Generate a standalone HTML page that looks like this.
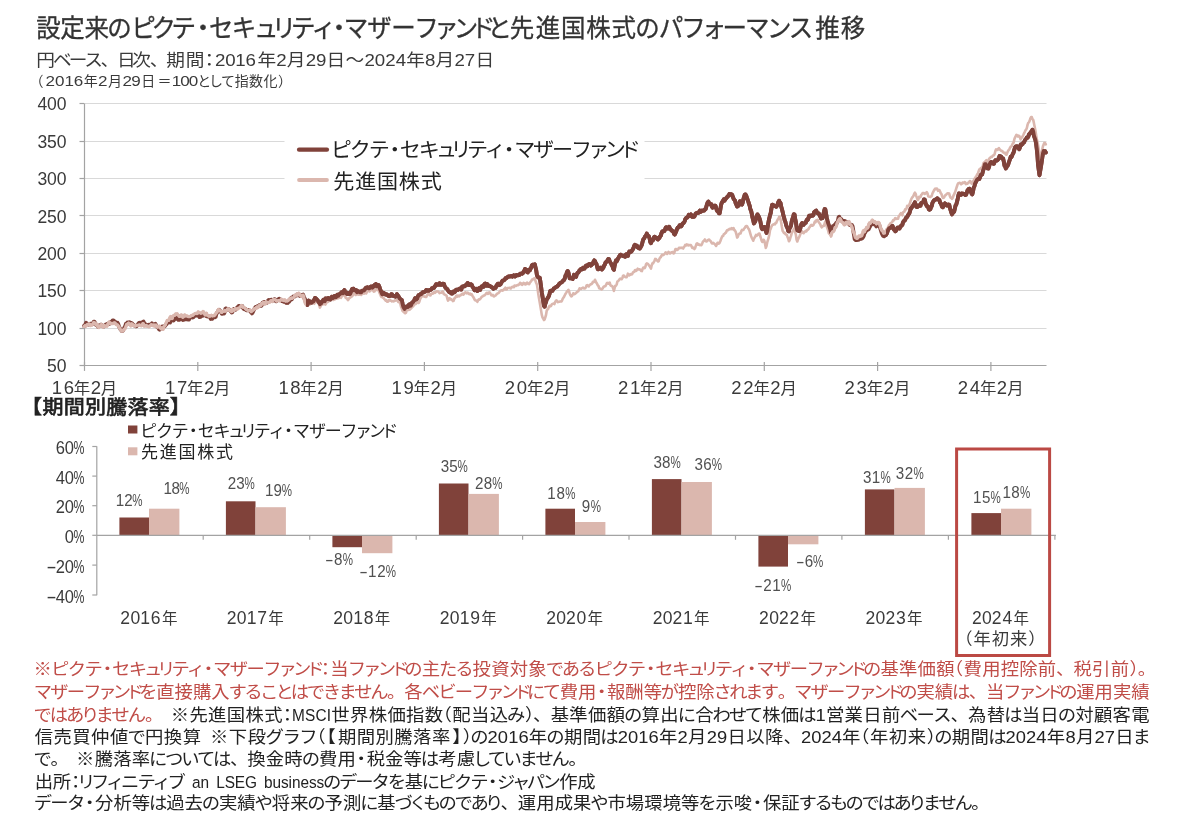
<!DOCTYPE html>
<html lang="ja"><head><meta charset="utf-8"><title>設定来のピクテ・セキュリティ・マザーファンドと先進国株式のパフォーマンス推移</title>
<style>
html,body{margin:0;padding:0;background:#fff;}
body{width:1200px;height:817px;overflow:hidden;}
svg{display:block;font-family:"Liberation Sans", "Noto Sans CJK JP", sans-serif;fill:#3a3a3a;}
svg text{white-space:pre;}
</style></head><body>
<svg width="1200" height="817" viewBox="0 0 1200 817">
<rect width="1200" height="817" fill="#fff"/>
<text x="36.9 61.6 86.3 109.4 133.9 154.5 175.1 194.6 213.3 236.5 259.2 277.3 297.0 317.8 333.4 350.8 374.8 399.2 422.7 443.2 462.9 480.7 497.5 520.2 546.7 572.5 598.3 624.1 648.2 672.2 695.2 716.2 737.2 760.3 782.6 804.8 831.9 858.0" y="37.3" font-size="25" fill="#333" transform="scale(0.980,1)" stroke="#333" stroke-width="0.3">設定来のピクテ・セキュリティ・マザーファンドと先進国株式のパフォーマンス推移</text>
<text x="33.0 48.1 62.4 76.7 91.4 106.3 120.3 136.1 151.1 168.8 181.8 195.5 204.7 213.9 223.2 234.0 251.1 260.7 277.9 287.3 296.9 314.2 331.4 340.8 350.2 359.7 369.3 386.4 396.0 413.2 422.6 432.2" y="66" font-size="17" transform="scale(1.100,1)">円ベース、日次、期間：2016年2月29日～2024年8月27日</text>
<text x="29.4" y="86" font-size="14">（</text><text x="37.4 45.1 52.8 60.5" y="86" font-size="14.0" transform="scale(1.220,1)">2016</text><text x="83.8" y="86" font-size="14">年</text><text x="80.3" y="86" font-size="14.0" transform="scale(1.220,1)">2</text><text x="108.0" y="86" font-size="14">月</text><text x="100.5 107.6" y="86" font-size="14.0" transform="scale(1.220,1)">29</text><text x="141.3 157.5" y="86" font-size="14">日＝</text><text x="140.8 147.8 154.8" y="86" font-size="14.0" transform="scale(1.220,1)">100</text><text x="197.2 208.9 220.9 234.7 249.1 263.4 278.0" y="86" font-size="14">として指数化）</text>
<line x1="84.0" y1="328.5" x2="1046.5" y2="328.5" stroke="#d9d9d9" stroke-width="1"/>
<line x1="84.0" y1="290.5" x2="1046.5" y2="290.5" stroke="#d9d9d9" stroke-width="1"/>
<line x1="84.0" y1="253.5" x2="1046.5" y2="253.5" stroke="#d9d9d9" stroke-width="1"/>
<line x1="84.0" y1="215.5" x2="1046.5" y2="215.5" stroke="#d9d9d9" stroke-width="1"/>
<line x1="84.0" y1="178.5" x2="1046.5" y2="178.5" stroke="#d9d9d9" stroke-width="1"/>
<line x1="84.0" y1="141.5" x2="1046.5" y2="141.5" stroke="#d9d9d9" stroke-width="1"/>
<line x1="84.0" y1="103.5" x2="1046.5" y2="103.5" stroke="#d9d9d9" stroke-width="1"/>
<rect x="284.5" y="132" width="360" height="62" fill="#fff"/>
<line x1="84.5" y1="103.6" x2="84.5" y2="365.9" stroke="#a3a3a3" stroke-width="1.2"/>
<line x1="84.0" y1="365.5" x2="1046.5" y2="365.5" stroke="#a3a3a3" stroke-width="1.2"/>
<line x1="79.5" y1="365.5" x2="84.0" y2="365.5" stroke="#a3a3a3" stroke-width="1.2"/>
<text x="49.6 59.7" y="372.2" font-size="18.5" transform="scale(0.950,1)">50</text>
<line x1="79.5" y1="328.5" x2="84.0" y2="328.5" stroke="#a3a3a3" stroke-width="1.2"/>
<text x="39.5 49.6 59.7" y="334.8" font-size="18.5" transform="scale(0.950,1)">100</text>
<line x1="79.5" y1="290.5" x2="84.0" y2="290.5" stroke="#a3a3a3" stroke-width="1.2"/>
<text x="39.5 49.6 59.7" y="297.4" font-size="18.5" transform="scale(0.950,1)">150</text>
<line x1="79.5" y1="253.5" x2="84.0" y2="253.5" stroke="#a3a3a3" stroke-width="1.2"/>
<text x="39.5 49.6 59.7" y="260.0" font-size="18.5" transform="scale(0.950,1)">200</text>
<line x1="79.5" y1="215.5" x2="84.0" y2="215.5" stroke="#a3a3a3" stroke-width="1.2"/>
<text x="39.5 49.6 59.7" y="222.6" font-size="18.5" transform="scale(0.950,1)">250</text>
<line x1="79.5" y1="178.5" x2="84.0" y2="178.5" stroke="#a3a3a3" stroke-width="1.2"/>
<text x="39.5 49.6 59.7" y="185.2" font-size="18.5" transform="scale(0.950,1)">300</text>
<line x1="79.5" y1="141.5" x2="84.0" y2="141.5" stroke="#a3a3a3" stroke-width="1.2"/>
<text x="39.5 49.6 59.7" y="147.8" font-size="18.5" transform="scale(0.950,1)">350</text>
<line x1="79.5" y1="103.5" x2="84.0" y2="103.5" stroke="#a3a3a3" stroke-width="1.2"/>
<text x="39.5 49.6 59.7" y="110.4" font-size="18.5" transform="scale(0.950,1)">400</text>
<line x1="84.5" y1="361.9" x2="84.5" y2="370.9" stroke="#a3a3a3" stroke-width="1.2"/>
<text x="52.0 64.0" y="394" font-size="18.6" transform="scale(0.996,1)">16</text><text x="69.5" y="394" font-size="15.5" transform="scale(1.060,1)">年</text><text x="91.2" y="394" font-size="18.6" transform="scale(0.996,1)">2</text><text x="95.1" y="394" font-size="15.5" transform="scale(1.060,1)">月</text>
<line x1="197.8" y1="361.9" x2="197.8" y2="370.9" stroke="#a3a3a3" stroke-width="1.2"/>
<text x="165.7 177.7" y="394" font-size="18.6" transform="scale(0.996,1)">17</text><text x="176.4" y="394" font-size="15.5" transform="scale(1.060,1)">年</text><text x="204.9" y="394" font-size="18.6" transform="scale(0.996,1)">2</text><text x="202.0" y="394" font-size="15.5" transform="scale(1.060,1)">月</text>
<line x1="311.1" y1="361.9" x2="311.1" y2="370.9" stroke="#a3a3a3" stroke-width="1.2"/>
<text x="279.5 291.4" y="394" font-size="18.6" transform="scale(0.996,1)">18</text><text x="283.3" y="394" font-size="15.5" transform="scale(1.060,1)">年</text><text x="318.6" y="394" font-size="18.6" transform="scale(0.996,1)">2</text><text x="308.9" y="394" font-size="15.5" transform="scale(1.060,1)">月</text>
<line x1="424.4" y1="361.9" x2="424.4" y2="370.9" stroke="#a3a3a3" stroke-width="1.2"/>
<text x="393.2 405.1" y="394" font-size="18.6" transform="scale(0.996,1)">19</text><text x="390.2" y="394" font-size="15.5" transform="scale(1.060,1)">年</text><text x="432.3" y="394" font-size="18.6" transform="scale(0.996,1)">2</text><text x="415.7" y="394" font-size="15.5" transform="scale(1.060,1)">月</text>
<line x1="537.7" y1="361.9" x2="537.7" y2="370.9" stroke="#a3a3a3" stroke-width="1.2"/>
<text x="506.9 518.8" y="394" font-size="18.6" transform="scale(0.996,1)">20</text><text x="497.1" y="394" font-size="15.5" transform="scale(1.060,1)">年</text><text x="546.0" y="394" font-size="18.6" transform="scale(0.996,1)">2</text><text x="522.6" y="394" font-size="15.5" transform="scale(1.060,1)">月</text>
<line x1="651.0" y1="361.9" x2="651.0" y2="370.9" stroke="#a3a3a3" stroke-width="1.2"/>
<text x="620.6 632.5" y="394" font-size="18.6" transform="scale(0.996,1)">21</text><text x="603.9" y="394" font-size="15.5" transform="scale(1.060,1)">年</text><text x="659.7" y="394" font-size="18.6" transform="scale(0.996,1)">2</text><text x="629.5" y="394" font-size="15.5" transform="scale(1.060,1)">月</text>
<line x1="764.3" y1="361.9" x2="764.3" y2="370.9" stroke="#a3a3a3" stroke-width="1.2"/>
<text x="734.3 746.2" y="394" font-size="18.6" transform="scale(0.996,1)">22</text><text x="710.8" y="394" font-size="15.5" transform="scale(1.060,1)">年</text><text x="773.4" y="394" font-size="18.6" transform="scale(0.996,1)">2</text><text x="736.4" y="394" font-size="15.5" transform="scale(1.060,1)">月</text>
<line x1="877.6" y1="361.9" x2="877.6" y2="370.9" stroke="#a3a3a3" stroke-width="1.2"/>
<text x="848.0 859.9" y="394" font-size="18.6" transform="scale(0.996,1)">23</text><text x="817.7" y="394" font-size="15.5" transform="scale(1.060,1)">年</text><text x="887.1" y="394" font-size="18.6" transform="scale(0.996,1)">2</text><text x="843.3" y="394" font-size="15.5" transform="scale(1.060,1)">月</text>
<line x1="990.9" y1="361.9" x2="990.9" y2="370.9" stroke="#a3a3a3" stroke-width="1.2"/>
<text x="961.7 973.7" y="394" font-size="18.6" transform="scale(0.996,1)">24</text><text x="924.6" y="394" font-size="15.5" transform="scale(1.060,1)">年</text><text x="1000.8" y="394" font-size="18.6" transform="scale(0.996,1)">2</text><text x="950.2" y="394" font-size="15.5" transform="scale(1.060,1)">月</text>
<defs><clipPath id="mid"><rect x="306" y="90" width="524" height="280"/></clipPath><clipPath id="end"><rect x="886" y="90" width="170" height="280"/></clipPath><clipPath id="lt"><rect x="80" y="90" width="226" height="280"/><rect x="830" y="90" width="56" height="280"/></clipPath><path id="sd" d="M84.0,326.0 84.7,325.9 85.4,324.2 86.1,322.8 86.8,323.9 87.5,324.0 88.2,324.1 88.9,324.6 89.6,324.7 90.3,323.6 91.0,323.6 91.7,323.8 92.4,324.2 93.1,323.4 93.8,321.6 94.5,321.7 95.2,323.5 95.9,324.9 96.6,324.7 97.3,325.0 98.0,326.9 98.7,325.9 99.4,325.9 100.1,325.8 100.8,324.7 101.5,324.6 102.2,325.8 102.9,326.0 103.6,326.7 104.3,326.0 105.0,325.6 105.7,324.6 106.4,324.3 107.1,323.9 107.8,323.8 108.5,323.8 109.2,323.8 109.9,323.6 110.6,322.1 111.3,322.6 112.0,321.5 112.7,320.4 113.4,320.5 114.1,320.9 114.8,322.1 115.5,321.9 116.2,322.9 116.9,323.3 117.6,322.9 118.3,324.2 119.0,326.6 119.7,327.9 120.4,329.2 121.1,330.1 121.8,331.0 122.5,330.8 123.2,330.3 123.9,328.5 124.6,327.1 125.3,325.8 126.0,323.7 126.7,323.7 127.4,322.5 128.1,322.8 128.8,323.5 129.5,322.2 130.2,322.6 130.9,324.2 131.6,323.1 132.3,323.6 133.0,324.6 133.7,325.2 134.4,325.5 135.1,325.9 135.8,326.3 136.5,326.3 137.2,325.5 137.9,324.2 138.6,323.4 139.3,322.7 140.0,323.5 140.7,322.8 141.4,323.9 142.1,324.1 142.8,321.8 143.5,321.6 144.2,323.0 144.9,324.3 145.6,324.2 146.3,324.8 147.0,325.2 147.7,325.4 148.4,325.9 149.1,324.7 149.8,324.6 150.5,324.6 151.2,324.3 151.9,323.4 152.6,324.4 153.3,324.3 154.0,324.6 154.7,324.4 155.4,323.8 156.1,325.1 156.8,326.7 157.5,326.8 158.2,327.4 158.9,329.1 159.6,329.6 160.3,328.6 161.0,328.6 161.7,326.6 162.4,326.5 163.1,327.6 163.8,326.9 164.5,326.3 165.2,325.7 165.9,324.7 166.6,324.1 167.3,322.6 168.0,320.9 168.7,321.5 169.4,322.2 170.1,322.5 170.8,320.6 171.5,320.0 172.2,319.9 172.9,319.9 173.6,320.5 174.3,319.4 175.0,317.8 175.7,318.5 176.4,318.7 177.1,317.6 177.8,318.2 178.5,319.9 179.2,319.8 179.9,319.3 180.6,319.0 181.3,318.8 182.0,318.6 182.7,320.0 183.4,319.9 184.1,319.3 184.8,318.2 185.5,318.4 186.2,319.4 186.9,319.3 187.6,318.9 188.3,319.6 189.0,319.5 189.7,318.2 190.4,317.5 191.1,316.7 191.8,316.5 192.5,317.5 193.2,317.4 193.9,316.7 194.6,315.1 195.3,314.8 196.0,315.5 196.7,315.5 197.4,315.5 198.1,315.0 198.8,316.1 199.5,317.1 200.2,316.9 200.9,316.6 201.6,315.7 202.3,315.8 203.0,315.3 203.7,315.5 204.4,314.9 205.1,314.7 205.8,315.1 206.5,316.4 207.2,316.4 207.9,316.5 208.6,316.2 209.3,316.9 210.0,317.0 210.7,318.9 211.4,318.7 212.1,318.9 212.8,317.8 213.5,316.5 214.2,316.3 214.9,317.3 215.6,316.9 216.3,314.2 217.0,312.8 217.7,312.0 218.4,310.4 219.1,309.8 219.8,310.4 220.5,311.4 221.2,312.4 221.9,313.8 222.6,313.6 223.3,313.6 224.0,313.6 224.7,312.1 225.4,308.7 226.1,308.4 226.8,309.8 227.5,309.1 228.2,309.3 228.9,309.3 229.6,309.9 230.3,310.6 231.0,311.4 231.7,312.4 232.4,312.1 233.1,310.4 233.8,309.1 234.5,309.6 235.2,309.7 235.9,309.6 236.6,308.5 237.3,307.3 238.0,307.6 238.7,306.0 239.4,306.0 240.1,306.7 240.8,306.8 241.5,307.1 242.2,306.0 242.9,307.6 243.6,308.9 244.3,309.1 245.0,309.4 245.7,309.1 246.4,310.1 247.1,310.4 247.8,309.9 248.5,309.9 249.2,310.4 249.9,310.8 250.6,311.9 251.3,312.4 252.0,313.4 252.7,312.4 253.4,310.9 254.1,309.5 254.8,308.0 255.5,307.2 256.2,306.6 256.9,306.7 257.6,306.2 258.3,306.1 259.0,305.7 259.7,304.9 260.4,304.9 261.1,305.9 261.8,305.1 262.5,302.9 263.2,302.6 263.9,301.9 264.6,302.0 265.3,302.8 266.0,302.4 266.7,302.8 267.4,302.2 268.1,300.4 268.8,300.0 269.5,300.4 270.2,300.5 270.9,299.8 271.6,299.6 272.3,300.2 273.0,300.5 273.7,300.1 274.4,299.1 275.1,299.3 275.8,301.2 276.5,301.2 277.2,300.1 277.9,299.7 278.6,299.2 279.3,298.8 280.0,299.5 280.7,299.7 281.4,300.3 282.1,301.1 282.8,301.0 283.5,301.7 284.2,301.7 284.9,301.5 285.6,302.1 286.3,302.9 287.0,302.5 287.7,302.9 288.4,301.7 289.1,301.6 289.8,300.8 290.5,298.8 291.2,297.9 291.9,299.2 292.6,297.6 293.3,296.5 294.0,296.8 294.7,296.3 295.4,296.0 296.1,295.0 296.8,294.5 297.5,295.3 298.2,294.5 298.9,294.8 299.6,295.6 300.3,296.1 301.0,295.4 301.7,295.2 302.4,295.1 303.1,294.6 303.8,296.7 304.5,298.4 305.2,300.2 305.9,302.2 306.6,303.5 307.3,305.0 308.0,303.8 308.7,300.6 309.4,301.2 310.1,301.6 310.8,302.7 311.5,302.8 312.2,302.2 312.9,301.2 313.6,301.2 314.3,299.6 315.0,297.9 315.7,298.4 316.4,299.1 317.1,299.7 317.8,300.5 318.5,302.2 319.2,302.3 319.9,304.2 320.6,303.7 321.3,303.2 322.0,301.6 322.7,301.0 323.4,299.9 324.1,300.6 324.8,301.1 325.5,298.5 326.2,298.5 326.9,299.2 327.6,298.7 328.3,298.0 329.0,299.2 329.7,299.1 330.4,299.5 331.1,298.2 331.8,296.9 332.5,297.3 333.2,297.9 333.9,296.3 334.6,296.0 335.3,296.8 336.0,297.2 336.7,296.1 337.4,294.7 338.1,295.9 338.8,294.7 339.5,294.2 340.2,293.8 340.9,293.1 341.6,292.2 342.3,292.9 343.0,293.3 343.7,291.0 344.4,290.0 345.1,292.0 345.8,292.9 346.5,293.6 347.2,294.0 347.9,292.9 348.6,293.3 349.3,294.0 350.0,294.0 350.7,292.7 351.4,290.7 352.1,289.0 352.8,288.9 353.5,288.7 354.2,290.3 354.9,290.0 355.6,290.0 356.3,290.2 357.0,292.2 357.7,291.5 358.4,291.3 359.1,291.9 359.8,292.1 360.5,292.4 361.2,292.3 361.9,290.9 362.6,290.7 363.3,290.5 364.0,290.5 364.7,289.7 365.4,288.4 366.1,287.7 366.8,287.6 367.5,287.3 368.2,288.1 368.9,288.3 369.6,288.1 370.3,287.2 371.0,286.5 371.7,286.6 372.4,287.6 373.1,287.0 373.8,285.8 374.5,285.0 375.2,284.9 375.9,284.0 376.6,286.3 377.3,286.1 378.0,285.0 378.7,285.2 379.4,286.8 380.1,289.2 380.8,290.7 381.5,292.5 382.2,294.3 382.9,294.1 383.6,292.9 384.3,293.4 385.0,294.3 385.7,294.6 386.4,294.3 387.1,294.7 387.8,295.4 388.5,295.9 389.2,296.1 389.9,295.4 390.6,295.7 391.3,294.2 392.0,294.4 392.7,295.7 393.4,296.0 394.1,296.0 394.8,296.5 395.5,296.7 396.2,296.1 396.9,294.2 397.6,295.0 398.3,296.2 399.0,297.2 399.7,298.5 400.4,299.0 401.1,299.8 401.8,300.1 402.5,303.5 403.2,306.4 403.9,307.8 404.6,308.9 405.3,307.4 406.0,306.8 406.7,306.4 407.4,307.1 408.1,306.8 408.8,305.0 409.5,304.3 410.2,304.5 410.9,305.6 411.6,303.8 412.3,302.4 413.0,302.2 413.7,301.2 414.4,299.9 415.1,298.3 415.8,298.4 416.5,299.4 417.2,298.5 417.9,296.4 418.6,295.1 419.3,295.0 420.0,294.6 420.7,293.9 421.4,294.1 422.1,292.9 422.8,292.2 423.5,292.4 424.2,291.9 424.9,291.9 425.6,290.9 426.3,290.0 427.0,290.2 427.7,290.6 428.4,290.9 429.1,290.3 429.8,289.9 430.5,289.9 431.2,289.7 431.9,288.4 432.6,288.1 433.3,288.0 434.0,287.9 434.7,286.4 435.4,285.9 436.1,284.3 436.8,284.3 437.5,284.7 438.2,284.5 438.9,284.8 439.6,283.3 440.3,284.1 441.0,284.7 441.7,284.1 442.4,283.8 443.1,284.5 443.8,283.7 444.5,285.8 445.2,287.1 445.9,288.2 446.6,288.7 447.3,289.0 448.0,290.5 448.7,291.5 449.4,292.3 450.1,292.0 450.8,292.8 451.5,293.5 452.2,293.6 452.9,291.6 453.6,291.5 454.3,292.3 455.0,291.7 455.7,290.2 456.4,289.6 457.1,289.6 457.8,289.9 458.5,289.3 459.2,288.8 459.9,288.5 460.6,289.3 461.3,289.6 462.0,286.9 462.7,286.4 463.4,286.5 464.1,285.9 464.8,286.2 465.5,285.2 466.2,285.3 466.9,284.1 467.6,283.0 468.3,284.2 469.0,285.0 469.7,284.3 470.4,284.5 471.1,284.3 471.8,285.0 472.5,286.6 473.2,287.7 473.9,289.0 474.6,290.2 475.3,289.1 476.0,288.7 476.7,289.7 477.4,291.0 478.1,289.3 478.8,288.4 479.5,289.3 480.2,289.8 480.9,287.7 481.6,286.5 482.3,286.1 483.0,286.7 483.7,286.8 484.4,284.0 485.1,283.5 485.8,285.0 486.5,285.6 487.2,284.1 487.9,284.8 488.6,286.0 489.3,285.8 490.0,286.1 490.7,286.5 491.4,287.1 492.1,287.4 492.8,288.1 493.5,288.7 494.2,287.8 494.9,287.6 495.6,287.7 496.3,285.9 497.0,284.9 497.7,283.9 498.4,283.7 499.1,285.1 499.8,284.7 500.5,284.3 501.2,282.9 501.9,281.7 502.6,280.7 503.3,280.5 504.0,280.2 504.7,279.6 505.4,278.3 506.1,278.3 506.8,277.9 507.5,277.0 508.2,276.5 508.9,276.5 509.6,276.6 510.3,276.1 511.0,276.1 511.7,276.0 512.4,276.7 513.1,276.0 513.8,275.2 514.5,275.8 515.2,276.4 515.9,275.7 516.6,274.9 517.3,275.3 518.0,275.2 518.7,275.1 519.4,274.9 520.1,273.7 520.8,273.8 521.5,273.5 522.2,273.7 522.9,273.0 523.6,271.7 524.3,270.6 525.0,268.9 525.7,269.5 526.4,269.9 527.1,272.2 527.8,272.4 528.5,270.2 529.2,269.6 529.9,270.3 530.6,268.8 531.3,267.3 532.0,265.2 532.7,264.8 533.4,264.7 534.1,264.8 534.8,264.3 535.5,267.4 536.2,270.3 536.9,275.0 537.6,276.7 538.3,277.6 539.0,277.5 539.7,277.6 540.4,281.7 541.1,287.1 541.8,292.6 542.5,296.7 543.2,300.9 543.9,305.6 544.6,306.7 545.3,303.9 546.0,302.1 546.7,299.3 547.4,298.6 548.1,297.4 548.8,296.3 549.5,294.0 550.2,291.1 550.9,290.8 551.6,290.7 552.3,290.9 553.0,289.9 553.7,288.6 554.4,288.3 555.1,287.6 555.8,287.3 556.5,286.7 557.2,286.6 557.9,285.5 558.6,285.0 559.3,283.8 560.0,283.2 560.7,282.6 561.4,282.6 562.1,282.0 562.8,281.0 563.5,280.3 564.2,279.8 564.9,278.1 565.6,275.3 566.3,274.6 567.0,271.9 567.7,271.0 568.4,272.3 569.1,275.8 569.8,278.4 570.5,278.3 571.2,278.2 571.9,278.5 572.6,279.0 573.3,277.2 574.0,274.8 574.7,275.0 575.4,276.5 576.1,276.9 576.8,274.1 577.5,272.8 578.2,272.6 578.9,271.6 579.6,270.2 580.3,270.2 581.0,268.9 581.7,268.8 582.4,269.2 583.1,267.7 583.8,267.8 584.5,268.5 585.2,267.2 585.9,265.7 586.6,265.9 587.3,266.2 588.0,264.5 588.7,264.3 589.4,264.0 590.1,264.2 590.8,265.6 591.5,265.0 592.2,264.2 592.9,263.3 593.6,261.6 594.3,260.4 595.0,261.1 595.7,263.1 596.4,263.8 597.1,266.6 597.8,269.2 598.5,269.2 599.2,268.7 599.9,267.8 600.6,267.8 601.3,267.8 602.0,269.4 602.7,268.4 603.4,267.6 604.1,265.6 604.8,264.6 605.5,262.5 606.2,261.9 606.9,261.6 607.6,260.2 608.3,259.0 609.0,259.2 609.7,261.4 610.4,262.5 611.1,263.5 611.8,265.1 612.5,266.2 613.2,268.7 613.9,269.8 614.6,265.7 615.3,262.9 616.0,260.6 616.7,261.3 617.4,260.0 618.1,258.3 618.8,257.3 619.5,256.1 620.2,254.8 620.9,254.6 621.6,255.5 622.3,255.4 623.0,256.0 623.7,255.7 624.4,256.4 625.1,256.7 625.8,254.7 626.5,254.2 627.2,255.8 627.9,255.9 628.6,253.2 629.3,251.6 630.0,251.9 630.7,251.8 631.4,251.6 632.1,250.3 632.8,249.3 633.5,248.0 634.2,245.7 634.9,244.9 635.6,245.6 636.3,245.5 637.0,245.6 637.7,247.5 638.4,248.0 639.1,248.3 639.8,248.6 640.5,247.4 641.2,246.1 641.9,244.6 642.6,241.8 643.3,239.3 644.0,238.6 644.7,237.3 645.4,236.1 646.1,235.4 646.8,233.6 647.5,235.2 648.2,235.9 648.9,236.4 649.6,238.5 650.3,242.1 651.0,243.2 651.7,240.9 652.4,240.9 653.1,240.0 653.8,237.7 654.5,236.7 655.2,237.2 655.9,237.5 656.6,237.8 657.3,239.1 658.0,239.4 658.7,238.4 659.4,238.0 660.1,236.3 660.8,235.6 661.5,233.1 662.2,231.5 662.9,231.1 663.6,231.2 664.3,231.1 665.0,229.7 665.7,227.7 666.4,227.2 667.1,227.8 667.8,228.6 668.5,228.6 669.2,226.8 669.9,228.2 670.6,229.3 671.3,230.2 672.0,230.9 672.7,230.9 673.4,231.6 674.1,234.0 674.8,234.6 675.5,232.9 676.2,231.4 676.9,229.3 677.6,227.7 678.3,227.6 679.0,226.4 679.7,225.2 680.4,225.5 681.1,226.5 681.8,225.4 682.5,223.9 683.2,223.1 683.9,222.7 684.6,221.4 685.3,219.1 686.0,218.2 686.7,217.7 687.4,217.4 688.1,216.4 688.8,214.9 689.5,215.8 690.2,215.1 690.9,214.4 691.6,216.1 692.3,216.9 693.0,216.9 693.7,216.9 694.4,216.5 695.1,214.9 695.8,213.3 696.5,213.1 697.2,213.1 697.9,212.4 698.6,212.7 699.3,211.8 700.0,210.6 700.7,211.9 701.4,211.2 702.1,210.5 702.8,210.8 703.5,210.4 704.2,210.6 704.9,209.4 705.6,209.2 706.3,206.7 707.0,204.2 707.7,202.3 708.4,201.6 709.1,203.1 709.8,204.1 710.5,204.5 711.2,204.3 711.9,206.7 712.6,207.7 713.3,206.1 714.0,205.6 714.7,205.6 715.4,205.7 716.1,207.7 716.8,210.3 717.5,211.2 718.2,211.5 718.9,213.2 719.6,213.3 720.3,209.7 721.0,205.2 721.7,202.9 722.4,201.9 723.1,200.6 723.8,199.4 724.5,200.7 725.2,199.7 725.9,198.2 726.6,197.9 727.3,196.9 728.0,196.1 728.7,195.6 729.4,193.9 730.1,194.6 730.8,194.4 731.5,194.3 732.2,194.8 732.9,197.1 733.6,198.8 734.3,199.7 735.0,200.5 735.7,203.2 736.4,204.8 737.1,206.5 737.8,206.4 738.5,205.5 739.2,204.2 739.9,201.2 740.6,203.1 741.3,204.2 742.0,204.6 742.7,202.6 743.4,199.1 744.1,196.8 744.8,194.6 745.5,194.4 746.2,195.7 746.9,197.7 747.6,199.7 748.3,201.6 749.0,203.9 749.7,205.9 750.4,209.3 751.1,210.7 751.8,213.8 752.5,217.6 753.2,220.2 753.9,223.4 754.6,222.3 755.3,221.3 756.0,218.7 756.7,216.1 757.4,214.4 758.1,215.3 758.8,216.6 759.5,218.4 760.2,220.7 760.9,224.2 761.6,228.0 762.3,229.1 763.0,227.4 763.7,227.1 764.4,227.0 765.1,228.7 765.8,230.8 766.5,233.0 767.2,230.5 767.9,225.3 768.6,221.5 769.3,218.2 770.0,215.4 770.7,213.1 771.4,208.6 772.1,204.9 772.8,204.7 773.5,205.3 774.2,206.1 774.9,206.0 775.6,206.4 776.3,206.8 777.0,205.7 777.7,203.9 778.4,201.9 779.1,200.7 779.8,202.2 780.5,202.9 781.2,206.4 781.9,209.0 782.6,211.7 783.3,215.1 784.0,217.3 784.7,220.3 785.4,221.9 786.1,224.9 786.8,227.0 787.5,227.9 788.2,230.8 788.9,231.3 789.6,227.6 790.3,227.4 791.0,225.6 791.7,221.5 792.4,219.0 793.1,217.2 793.8,214.3 794.5,214.4 795.2,218.9 795.9,222.1 796.6,227.2 797.3,230.3 798.0,229.3 798.7,231.0 799.4,231.1 800.1,229.3 800.8,226.1 801.5,223.9 802.2,223.0 802.9,223.8 803.6,224.8 804.3,223.5 805.0,223.1 805.7,222.8 806.4,220.7 807.1,219.5 807.8,219.9 808.5,217.8 809.2,215.7 809.9,215.6 810.6,216.2 811.3,215.5 812.0,215.5 812.7,215.7 813.4,214.9 814.1,212.4 814.8,211.6 815.5,211.1 816.2,210.6 816.9,212.2 817.6,213.3 818.3,213.2 819.0,213.6 819.7,215.5 820.4,216.8 821.1,218.5 821.8,218.2 822.5,218.1 823.2,215.6 823.9,211.9 824.6,209.1 825.3,209.4 826.0,213.4 826.7,217.4 827.4,220.4 828.1,223.0 828.8,224.7 829.5,226.9 830.2,229.3 830.9,232.2 831.6,229.7 832.3,227.5 833.0,226.0 833.7,226.0 834.4,225.2 835.1,224.7 835.8,223.7 836.5,222.6 837.2,222.6 837.9,220.6 838.6,217.2 839.3,216.8 840.0,218.7 840.7,218.9 841.4,219.3 842.1,221.1 842.8,220.7 843.5,221.1 844.2,221.7 844.9,221.0 845.6,221.6 846.3,222.4 847.0,222.7 847.7,222.4 848.4,223.2 849.1,223.7 849.8,225.0 850.5,224.8 851.2,224.7 851.9,225.0 852.6,226.4 853.3,230.9 854.0,234.9 854.7,239.2 855.4,239.9 856.1,239.3 856.8,240.0 857.5,239.1 858.2,239.1 858.9,239.7 859.6,239.0 860.3,237.6 861.0,237.6 861.7,238.6 862.4,238.2 863.1,237.2 863.8,235.8 864.5,233.3 865.2,232.5 865.9,231.0 866.6,230.3 867.3,229.9 868.0,229.7 868.7,229.2 869.4,227.7 870.1,226.3 870.8,225.0 871.5,224.6 872.2,222.8 872.9,221.6 873.6,223.3 874.3,224.3 875.0,224.1 875.7,225.2 876.4,226.4 877.1,225.5 877.8,225.2 878.5,224.7 879.2,224.9 879.9,227.1 880.6,229.3 881.3,231.6 882.0,233.8 882.7,235.3 883.4,236.0 884.1,236.3 884.8,235.6 885.5,235.3 886.2,234.6 886.9,233.3 887.6,231.1 888.3,229.7 889.0,228.4 889.7,228.0 890.4,227.7 891.1,227.6 891.8,226.2 892.5,225.9 893.2,227.9 893.9,229.5 894.6,229.4 895.3,231.3 896.0,230.7 896.7,229.2 897.4,227.7 898.1,227.5 898.8,228.4 899.5,228.5 900.2,227.2 900.9,226.0 901.6,225.6 902.3,224.9 903.0,222.4 903.7,221.1 904.4,220.7 905.1,220.1 905.8,218.1 906.5,217.5 907.2,216.8 907.9,215.5 908.6,214.3 909.3,213.5 910.0,211.2 910.7,208.4 911.4,208.2 912.1,206.8 912.8,206.0 913.5,204.9 914.2,203.8 914.9,202.2 915.6,204.5 916.3,206.6 917.0,207.1 917.7,206.8 918.4,205.5 919.1,205.5 919.8,205.9 920.5,205.7 921.2,203.1 921.9,202.8 922.6,202.5 923.3,201.8 924.0,199.4 924.7,199.4 925.4,202.5 926.1,204.7 926.8,206.0 927.5,206.1 928.2,207.3 928.9,209.4 929.6,209.7 930.3,209.2 931.0,207.4 931.7,206.1 932.4,203.0 933.1,201.6 933.8,200.7 934.5,200.0 935.2,199.7 935.9,199.4 936.6,199.1 937.3,198.3 938.0,199.0 938.7,199.8 939.4,200.1 940.1,202.6 940.8,203.3 941.5,205.2 942.2,206.9 942.9,207.3 943.6,206.1 944.3,204.6 945.0,203.4 945.7,204.2 946.4,204.8 947.1,205.5 947.8,204.7 948.5,204.5 949.2,204.8 949.9,207.7 950.6,210.2 951.3,212.3 952.0,214.4 952.7,213.1 953.4,212.4 954.1,211.7 954.8,208.9 955.5,205.7 956.2,204.7 956.9,202.2 957.6,199.5 958.3,195.9 959.0,193.4 959.7,194.2 960.4,194.7 961.1,194.8 961.8,193.5 962.5,193.6 963.2,193.7 963.9,194.2 964.6,194.0 965.3,195.0 966.0,194.7 966.7,193.0 967.4,190.7 968.1,189.7 968.8,188.9 969.5,188.8 970.2,190.9 970.9,191.6 971.6,193.6 972.3,194.4 973.0,191.5 973.7,187.6 974.4,186.3 975.1,183.6 975.8,182.1 976.5,180.8 977.2,179.5 977.9,179.0 978.6,178.6 979.3,178.9 980.0,177.4 980.7,175.0 981.4,175.0 982.1,174.5 982.8,171.7 983.5,169.3 984.2,167.2 984.9,164.3 985.6,164.2 986.3,166.2 987.0,167.8 987.7,168.4 988.4,168.5 989.1,166.5 989.8,164.0 990.5,162.6 991.2,162.0 991.9,162.7 992.6,163.0 993.3,163.7 994.0,163.7 994.7,161.4 995.4,160.2 996.1,160.5 996.8,160.5 997.5,160.1 998.2,159.2 998.9,157.8 999.6,156.0 1000.3,156.2 1001.0,156.5 1001.7,157.8 1002.4,158.7 1003.1,158.4 1003.8,161.6 1004.5,165.6 1005.2,166.5 1005.9,168.5 1006.6,167.1 1007.3,165.6 1008.0,165.3 1008.7,162.8 1009.4,160.9 1010.1,158.9 1010.8,156.7 1011.5,157.0 1012.2,155.2 1012.9,153.7 1013.6,152.5 1014.3,149.8 1015.0,147.6 1015.7,146.4 1016.4,146.4 1017.1,146.3 1017.8,146.8 1018.5,147.6 1019.2,149.2 1019.9,147.5 1020.6,144.6 1021.3,145.0 1022.0,144.3 1022.7,143.9 1023.4,142.5 1024.1,142.2 1024.8,140.4 1025.5,139.5 1026.2,138.5 1026.9,137.4 1027.6,137.6 1028.3,136.6 1029.0,134.3 1029.7,133.8 1030.4,132.7 1031.1,131.9 1031.8,131.0 1032.5,129.7 1033.2,131.7 1033.9,135.6 1034.6,137.6 1035.3,139.6 1036.0,142.7 1036.7,148.2 1037.4,155.0 1038.1,165.1 1038.8,170.2 1039.5,175.2 1040.2,170.9 1040.9,166.9 1041.6,162.5 1042.3,157.5 1043.0,153.3 1043.7,151.0 1044.4,151.2 1045.1,151.3 1045.8,152.5"/><path id="sl" d="M84.0,326.5 84.7,326.1 85.4,325.4 86.1,326.1 86.8,325.6 87.5,324.3 88.2,324.4 88.9,323.9 89.6,324.0 90.3,325.7 91.0,325.1 91.7,325.1 92.4,324.6 93.1,323.4 93.8,322.3 94.5,322.6 95.2,323.9 95.9,324.8 96.6,323.8 97.3,324.8 98.0,327.0 98.7,327.6 99.4,326.9 100.1,326.2 100.8,325.1 101.5,324.4 102.2,325.6 102.9,327.3 103.6,326.4 104.3,325.5 105.0,326.5 105.7,326.1 106.4,326.1 107.1,326.2 107.8,324.2 108.5,322.7 109.2,321.8 109.9,323.3 110.6,323.9 111.3,323.3 112.0,323.3 112.7,323.7 113.4,323.2 114.1,322.7 114.8,322.7 115.5,323.5 116.2,324.8 116.9,324.7 117.6,325.0 118.3,325.9 119.0,327.1 119.7,328.4 120.4,329.5 121.1,330.4 121.8,331.1 122.5,330.3 123.2,330.8 123.9,329.5 124.6,328.8 125.3,328.4 126.0,326.3 126.7,324.4 127.4,324.5 128.1,323.3 128.8,323.0 129.5,324.1 130.2,325.0 130.9,326.0 131.6,323.8 132.3,324.2 133.0,325.3 133.7,325.7 134.4,325.4 135.1,326.2 135.8,325.8 136.5,325.3 137.2,325.3 137.9,325.3 138.6,325.2 139.3,324.8 140.0,325.2 140.7,325.8 141.4,325.9 142.1,325.6 142.8,323.6 143.5,323.8 144.2,326.3 144.9,326.2 145.6,325.8 146.3,325.3 147.0,326.3 147.7,326.4 148.4,326.4 149.1,326.8 149.8,326.0 150.5,325.5 151.2,324.7 151.9,325.2 152.6,325.0 153.3,325.8 154.0,325.0 154.7,326.2 155.4,325.3 156.1,325.0 156.8,326.9 157.5,327.2 158.2,326.6 158.9,326.2 159.6,326.1 160.3,328.0 161.0,328.8 161.7,327.8 162.4,329.5 163.1,329.5 163.8,326.6 164.5,326.2 165.2,325.2 165.9,323.3 166.6,321.9 167.3,320.2 168.0,320.3 168.7,320.5 169.4,318.6 170.1,317.1 170.8,316.3 171.5,318.5 172.2,318.6 172.9,316.2 173.6,315.4 174.3,315.5 175.0,315.2 175.7,313.8 176.4,314.4 177.1,313.6 177.8,314.8 178.5,315.3 179.2,316.4 179.9,316.4 180.6,315.3 181.3,314.8 182.0,315.1 182.7,317.3 183.4,317.0 184.1,315.4 184.8,314.8 185.5,316.0 186.2,315.9 186.9,315.8 187.6,316.2 188.3,316.6 189.0,316.6 189.7,316.7 190.4,316.3 191.1,315.7 191.8,315.2 192.5,315.4 193.2,314.9 193.9,314.1 194.6,313.8 195.3,313.4 196.0,313.4 196.7,313.7 197.4,313.5 198.1,311.8 198.8,312.2 199.5,312.6 200.2,312.7 200.9,313.3 201.6,313.1 202.3,312.4 203.0,311.4 203.7,311.8 204.4,313.6 205.1,315.0 205.8,313.9 206.5,313.1 207.2,315.2 207.9,315.6 208.6,316.1 209.3,315.6 210.0,316.2 210.7,315.8 211.4,315.2 212.1,315.7 212.8,316.0 213.5,315.3 214.2,315.7 214.9,314.9 215.6,314.2 216.3,312.8 217.0,312.2 217.7,311.0 218.4,309.4 219.1,310.0 219.8,310.7 220.5,310.9 221.2,312.3 221.9,312.5 222.6,311.3 223.3,311.5 224.0,311.3 224.7,310.5 225.4,311.2 226.1,310.8 226.8,309.9 227.5,309.0 228.2,308.8 228.9,309.3 229.6,310.5 230.3,310.2 231.0,311.2 231.7,311.7 232.4,309.4 233.1,309.5 233.8,310.7 234.5,309.7 235.2,308.6 235.9,308.8 236.6,309.0 237.3,309.3 238.0,308.3 238.7,307.9 239.4,307.7 240.1,307.4 240.8,306.3 241.5,305.4 242.2,305.9 242.9,307.3 243.6,307.1 244.3,307.5 245.0,308.0 245.7,309.0 246.4,309.7 247.1,309.6 247.8,310.5 248.5,310.7 249.2,310.6 249.9,309.8 250.6,310.4 251.3,311.6 252.0,311.1 252.7,310.3 253.4,310.0 254.1,308.8 254.8,308.6 255.5,308.8 256.2,307.6 256.9,307.0 257.6,307.8 258.3,307.2 259.0,305.9 259.7,305.1 260.4,305.8 261.1,305.3 261.8,303.4 262.5,303.1 263.2,302.5 263.9,302.4 264.6,304.3 265.3,304.1 266.0,301.7 266.7,302.3 267.4,302.3 268.1,302.2 268.8,302.6 269.5,302.4 270.2,301.4 270.9,300.6 271.6,301.5 272.3,301.6 273.0,299.7 273.7,299.5 274.4,299.8 275.1,299.6 275.8,300.2 276.5,301.1 277.2,300.9 277.9,300.8 278.6,300.6 279.3,300.4 280.0,301.0 280.7,300.1 281.4,299.2 282.1,299.5 282.8,300.1 283.5,300.6 284.2,299.8 284.9,299.9 285.6,301.1 286.3,300.9 287.0,301.1 287.7,300.8 288.4,300.2 289.1,299.0 289.8,299.2 290.5,298.5 291.2,297.9 291.9,298.5 292.6,297.9 293.3,297.7 294.0,297.3 294.7,295.4 295.4,295.6 296.1,294.6 296.8,293.9 297.5,295.1 298.2,294.4 298.9,293.1 299.6,294.2 300.3,295.4 301.0,296.3 301.7,296.6 302.4,295.6 303.1,295.1 303.8,297.7 304.5,300.7 305.2,303.0 305.9,304.4 306.6,305.0 307.3,305.1 308.0,303.9 308.7,303.5 309.4,304.2 310.1,304.4 310.8,303.3 311.5,303.2 312.2,303.2 312.9,302.8 313.6,302.8 314.3,303.8 315.0,302.2 315.7,301.4 316.4,301.6 317.1,301.8 317.8,302.4 318.5,303.6 319.2,304.8 319.9,307.6 320.6,306.4 321.3,304.6 322.0,304.7 322.7,304.1 323.4,304.1 324.1,304.1 324.8,303.9 325.5,304.5 326.2,303.2 326.9,302.1 327.6,302.0 328.3,301.8 329.0,300.1 329.7,299.9 330.4,299.6 331.1,299.4 331.8,298.7 332.5,299.5 333.2,300.0 333.9,299.3 334.6,299.5 335.3,298.4 336.0,297.9 336.7,297.4 337.4,298.4 338.1,298.3 338.8,297.9 339.5,297.7 340.2,297.2 340.9,297.8 341.6,296.7 342.3,295.2 343.0,295.4 343.7,295.4 344.4,295.0 345.1,296.0 345.8,298.0 346.5,298.1 347.2,299.1 347.9,300.1 348.6,299.3 349.3,298.0 350.0,297.7 350.7,296.6 351.4,296.9 352.1,296.2 352.8,295.2 353.5,293.3 354.2,292.7 354.9,294.1 355.6,295.0 356.3,294.6 357.0,294.3 357.7,294.2 358.4,294.5 359.1,294.8 359.8,294.2 360.5,294.4 361.2,294.9 361.9,294.1 362.6,293.3 363.3,293.2 364.0,293.6 364.7,293.1 365.4,292.1 366.1,293.5 366.8,292.4 367.5,291.1 368.2,290.2 368.9,290.6 369.6,291.4 370.3,290.7 371.0,288.9 371.7,289.3 372.4,290.2 373.1,290.1 373.8,291.6 374.5,291.4 375.2,290.0 375.9,289.1 376.6,289.9 377.3,289.8 378.0,289.4 378.7,290.6 379.4,292.7 380.1,294.1 380.8,295.9 381.5,296.9 382.2,296.9 382.9,297.7 383.6,298.1 384.3,299.1 385.0,299.7 385.7,300.6 386.4,300.2 387.1,301.6 387.8,301.7 388.5,301.2 389.2,299.7 389.9,299.8 390.6,300.7 391.3,300.8 392.0,301.4 392.7,301.1 393.4,301.4 394.1,301.3 394.8,300.4 395.5,300.6 396.2,300.4 396.9,299.9 397.6,300.1 398.3,302.1 399.0,302.3 399.7,301.3 400.4,303.9 401.1,307.0 401.8,308.6 402.5,310.8 403.2,311.5 403.9,311.7 404.6,313.0 405.3,313.2 406.0,312.7 406.7,310.3 407.4,310.0 408.1,310.0 408.8,309.9 409.5,309.8 410.2,309.2 410.9,308.5 411.6,307.8 412.3,306.8 413.0,306.5 413.7,305.5 414.4,304.0 415.1,304.2 415.8,304.0 416.5,303.2 417.2,301.6 417.9,302.0 418.6,303.0 419.3,301.9 420.0,299.3 420.7,298.1 421.4,297.1 422.1,295.7 422.8,295.1 423.5,295.9 424.2,296.7 424.9,296.7 425.6,296.9 426.3,297.0 427.0,295.3 427.7,294.5 428.4,293.7 429.1,294.2 429.8,295.3 430.5,295.4 431.2,293.7 431.9,293.6 432.6,293.8 433.3,293.0 434.0,292.2 434.7,292.9 435.4,292.5 436.1,291.7 436.8,291.2 437.5,291.4 438.2,291.6 438.9,292.2 439.6,293.1 440.3,292.8 441.0,292.8 441.7,292.4 442.4,291.5 443.1,291.9 443.8,294.1 444.5,294.4 445.2,294.8 445.9,295.2 446.6,295.7 447.3,298.5 448.0,300.6 448.7,299.7 449.4,298.2 450.1,298.6 450.8,299.5 451.5,299.4 452.2,300.0 452.9,301.1 453.6,300.8 454.3,298.5 455.0,298.2 455.7,296.9 456.4,295.7 457.1,296.6 457.8,295.5 458.5,295.9 459.2,296.4 459.9,295.7 460.6,294.8 461.3,295.0 462.0,293.9 462.7,293.6 463.4,294.6 464.1,294.0 464.8,292.7 465.5,292.3 466.2,292.9 466.9,293.3 467.6,292.6 468.3,292.9 469.0,294.0 469.7,294.3 470.4,293.6 471.1,294.7 471.8,294.3 472.5,296.0 473.2,296.8 473.9,298.1 474.6,299.6 475.3,300.4 476.0,300.5 476.7,300.7 477.4,301.8 478.1,300.2 478.8,299.3 479.5,299.6 480.2,298.9 480.9,298.1 481.6,297.1 482.3,296.5 483.0,296.1 483.7,295.5 484.4,295.4 485.1,294.8 485.8,294.0 486.5,292.9 487.2,292.7 487.9,293.9 488.6,292.9 489.3,292.4 490.0,292.7 490.7,294.2 491.4,295.4 492.1,295.1 492.8,294.9 493.5,296.2 494.2,296.4 494.9,295.7 495.6,295.5 496.3,294.5 497.0,293.9 497.7,293.4 498.4,293.1 499.1,292.3 499.8,291.5 500.5,290.7 501.2,290.2 501.9,290.3 502.6,290.6 503.3,290.2 504.0,289.1 504.7,288.7 505.4,287.7 506.1,289.5 506.8,289.4 507.5,288.1 508.2,288.0 508.9,288.0 509.6,287.7 510.3,288.4 511.0,288.5 511.7,287.2 512.4,286.8 513.1,286.7 513.8,287.2 514.5,285.6 515.2,285.6 515.9,286.0 516.6,285.5 517.3,285.0 518.0,285.2 518.7,284.6 519.4,284.4 520.1,282.8 520.8,283.2 521.5,284.4 522.2,284.8 522.9,283.9 523.6,282.8 524.3,284.1 525.0,283.4 525.7,284.4 526.4,283.5 527.1,282.5 527.8,283.6 528.5,284.0 529.2,284.1 529.9,282.7 530.6,281.8 531.3,281.0 532.0,279.5 532.7,279.7 533.4,279.0 534.1,278.3 534.8,278.4 535.5,281.0 536.2,283.0 536.9,284.6 537.6,288.9 538.3,294.0 539.0,298.2 539.7,302.3 540.4,306.3 541.1,310.6 541.8,314.9 542.5,317.3 543.2,318.5 543.9,320.1 544.6,319.5 545.3,317.3 546.0,315.0 546.7,310.8 547.4,309.2 548.1,309.2 548.8,307.1 549.5,305.9 550.2,306.4 550.9,306.1 551.6,304.7 552.3,304.0 553.0,303.8 553.7,303.5 554.4,304.1 555.1,302.1 555.8,300.9 556.5,300.3 557.2,301.2 557.9,302.1 558.6,301.7 559.3,301.8 560.0,301.6 560.7,301.4 561.4,301.4 562.1,300.4 562.8,298.5 563.5,297.7 564.2,296.5 564.9,295.0 565.6,293.7 566.3,292.6 567.0,291.3 567.7,290.6 568.4,289.8 569.1,291.2 569.8,294.0 570.5,295.3 571.2,296.4 571.9,296.0 572.6,294.9 573.3,293.3 574.0,293.7 574.7,294.2 575.4,293.5 576.1,293.0 576.8,292.1 577.5,291.8 578.2,291.3 578.9,289.9 579.6,288.3 580.3,289.0 581.0,289.0 581.7,288.3 582.4,288.1 583.1,287.6 583.8,288.4 584.5,288.4 585.2,288.3 585.9,287.1 586.6,285.5 587.3,285.1 588.0,286.0 588.7,286.5 589.4,285.3 590.1,284.8 590.8,284.1 591.5,284.1 592.2,283.3 592.9,281.8 593.6,282.1 594.3,281.7 595.0,279.8 595.7,281.4 596.4,282.8 597.1,283.9 597.8,285.3 598.5,286.0 599.2,288.3 599.9,288.5 600.6,288.7 601.3,289.4 602.0,289.2 602.7,288.4 603.4,287.0 604.1,286.3 604.8,286.4 605.5,286.1 606.2,284.5 606.9,283.1 607.6,282.9 608.3,283.7 609.0,283.1 609.7,282.6 610.4,285.1 611.1,285.9 611.8,285.8 612.5,286.5 613.2,288.5 613.9,290.9 614.6,288.2 615.3,285.7 616.0,285.6 616.7,284.4 617.4,281.5 618.1,281.0 618.8,280.3 619.5,279.4 620.2,278.6 620.9,279.1 621.6,279.3 622.3,278.3 623.0,275.9 623.7,275.5 624.4,276.2 625.1,277.0 625.8,277.1 626.5,277.3 627.2,276.1 627.9,273.7 628.6,274.3 629.3,275.3 630.0,274.9 630.7,274.0 631.4,274.5 632.1,274.3 632.8,272.7 633.5,271.9 634.2,271.9 634.9,270.3 635.6,270.0 636.3,270.8 637.0,269.7 637.7,268.7 638.4,269.4 639.1,269.2 639.8,269.3 640.5,270.0 641.2,270.9 641.9,271.1 642.6,268.9 643.3,267.5 644.0,267.7 644.7,268.1 645.4,266.6 646.1,264.1 646.8,263.4 647.5,263.7 648.2,264.3 648.9,265.2 649.6,266.2 650.3,267.4 651.0,268.6 651.7,265.3 652.4,263.4 653.1,263.3 653.8,262.0 654.5,260.8 655.2,258.9 655.9,259.1 656.6,260.1 657.3,260.6 658.0,261.5 658.7,261.1 659.4,258.8 660.1,257.5 660.8,257.3 661.5,255.6 662.2,254.7 662.9,255.2 663.6,254.8 664.3,254.2 665.0,253.3 665.7,252.3 666.4,253.1 667.1,253.9 667.8,253.1 668.5,251.8 669.2,252.6 669.9,253.5 670.6,253.1 671.3,252.2 672.0,252.2 672.7,252.0 673.4,253.4 674.1,253.3 674.8,251.0 675.5,249.0 676.2,249.1 676.9,250.0 677.6,249.7 678.3,249.1 679.0,247.7 679.7,247.9 680.4,247.7 681.1,247.7 681.8,248.0 682.5,247.7 683.2,248.5 683.9,247.2 684.6,246.2 685.3,244.8 686.0,245.3 686.7,244.5 687.4,245.1 688.1,244.8 688.8,245.4 689.5,245.1 690.2,245.3 690.9,245.1 691.6,246.4 692.3,248.0 693.0,247.6 693.7,248.1 694.4,249.0 695.1,248.1 695.8,245.9 696.5,243.9 697.2,243.4 697.9,244.6 698.6,244.1 699.3,244.8 700.0,245.2 700.7,244.8 701.4,245.2 702.1,243.9 702.8,241.9 703.5,241.1 704.2,240.4 704.9,239.5 705.6,241.0 706.3,241.4 707.0,241.2 707.7,240.2 708.4,239.7 709.1,239.6 709.8,240.6 710.5,240.9 711.2,242.1 711.9,243.4 712.6,243.4 713.3,242.8 714.0,243.5 714.7,244.0 715.4,245.0 716.1,245.9 716.8,244.4 717.5,242.8 718.2,242.8 718.9,243.6 719.6,242.8 720.3,241.3 721.0,239.3 721.7,237.6 722.4,236.2 723.1,235.9 723.8,234.2 724.5,234.0 725.2,233.1 725.9,232.6 726.6,231.1 727.3,230.1 728.0,230.1 728.7,229.6 729.4,228.9 730.1,229.3 730.8,228.8 731.5,228.2 732.2,229.2 732.9,228.7 733.6,228.1 734.3,230.1 735.0,230.5 735.7,231.8 736.4,234.3 737.1,237.6 737.8,236.9 738.5,234.7 739.2,233.9 739.9,233.2 740.6,233.4 741.3,231.1 742.0,229.9 742.7,230.1 743.4,229.9 744.1,228.5 744.8,228.0 745.5,226.6 746.2,226.1 746.9,226.0 747.6,227.1 748.3,228.5 749.0,229.4 749.7,231.3 750.4,233.8 751.1,236.2 751.8,237.8 752.5,239.1 753.2,240.7 753.9,238.9 754.6,237.7 755.3,236.5 756.0,234.9 756.7,235.6 757.4,235.4 758.1,234.3 758.8,233.5 759.5,233.5 760.2,236.0 760.9,238.0 761.6,240.6 762.3,242.0 763.0,240.1 763.7,239.8 764.4,240.9 765.1,244.2 765.8,247.9 766.5,246.1 767.2,242.5 767.9,240.1 768.6,238.0 769.3,234.8 770.0,230.3 770.7,228.8 771.4,226.7 772.1,225.3 772.8,224.8 773.5,224.5 774.2,224.0 774.9,224.3 775.6,222.9 776.3,222.9 777.0,220.8 777.7,219.6 778.4,219.0 779.1,216.9 779.8,216.8 780.5,219.2 781.2,222.5 781.9,227.0 782.6,230.8 783.3,231.9 784.0,233.0 784.7,232.9 785.4,234.2 786.1,234.6 786.8,234.8 787.5,236.9 788.2,238.5 788.9,241.3 789.6,240.5 790.3,237.8 791.0,235.9 791.7,233.2 792.4,231.6 793.1,230.9 793.8,228.9 794.5,230.0 795.2,232.5 795.9,234.9 796.6,239.7 797.3,241.5 798.0,239.4 798.7,237.8 799.4,236.6 800.1,234.7 800.8,233.0 801.5,231.9 802.2,231.3 802.9,232.9 803.6,233.2 804.3,232.3 805.0,231.5 805.7,230.9 806.4,231.3 807.1,230.0 807.8,229.7 808.5,229.1 809.2,227.7 809.9,226.9 810.6,225.7 811.3,224.9 812.0,225.8 812.7,225.7 813.4,225.0 814.1,223.4 814.8,221.6 815.5,222.3 816.2,220.5 816.9,220.1 817.6,219.8 818.3,221.6 819.0,222.6 819.7,223.3 820.4,224.7 821.1,226.5 821.8,227.3 822.5,226.3 823.2,226.0 823.9,226.0 824.6,223.5 825.3,221.7 826.0,223.0 826.7,226.3 827.4,228.4 828.1,230.4 828.8,233.3 829.5,233.9 830.2,234.8 830.9,236.2 831.6,233.8 832.3,232.1 833.0,231.5 833.7,231.4 834.4,229.9 835.1,227.4 835.8,227.4 836.5,225.9 837.2,222.9 837.9,221.5 838.6,220.3 839.3,219.1 840.0,218.6 840.7,219.6 841.4,221.6 842.1,222.2 842.8,222.4 843.5,223.7 844.2,224.9 844.9,224.7 845.6,222.7 846.3,222.1 847.0,223.1 847.7,224.2 848.4,222.2 849.1,221.5 849.8,223.5 850.5,224.9 851.2,225.4 851.9,226.9 852.6,229.4 853.3,231.8 854.0,233.0 854.7,235.0 855.4,237.5 856.1,237.9 856.8,238.5 857.5,238.2 858.2,237.0 858.9,236.0 859.6,236.6 860.3,236.2 861.0,235.1 861.7,235.9 862.4,233.8 863.1,231.2 863.8,230.3 864.5,231.8 865.2,229.9 865.9,229.0 866.6,227.3 867.3,228.2 868.0,227.4 868.7,224.2 869.4,222.9 870.1,223.5 870.8,222.6 871.5,221.5 872.2,220.0 872.9,220.6 873.6,221.2 874.3,222.4 875.0,221.7 875.7,222.4 876.4,223.8 877.1,223.0 877.8,222.2 878.5,222.3 879.2,222.9 879.9,225.1 880.6,227.9 881.3,229.6 882.0,230.7 882.7,230.9 883.4,233.1 884.1,233.1 884.8,232.9 885.5,231.8 886.2,230.6 886.9,229.4 887.6,228.1 888.3,226.7 889.0,225.1 889.7,224.4 890.4,223.3 891.1,222.9 891.8,222.6 892.5,221.6 893.2,220.1 893.9,220.3 894.6,219.2 895.3,218.0 896.0,218.6 896.7,218.9 897.4,218.8 898.1,218.7 898.8,216.0 899.5,215.5 900.2,214.1 900.9,213.2 901.6,214.8 902.3,215.3 903.0,212.3 903.7,211.9 904.4,211.5 905.1,209.3 905.8,209.5 906.5,208.5 907.2,205.8 907.9,206.3 908.6,206.0 909.3,204.6 910.0,203.1 910.7,200.7 911.4,198.9 912.1,197.7 912.8,196.9 913.5,195.8 914.2,193.9 914.9,192.7 915.6,193.7 916.3,196.1 917.0,198.1 917.7,200.0 918.4,199.4 919.1,196.8 919.8,197.2 920.5,197.1 921.2,194.8 921.9,194.4 922.6,193.0 923.3,193.0 924.0,193.0 924.7,194.0 925.4,193.4 926.1,192.9 926.8,192.2 927.5,193.4 928.2,196.1 928.9,196.6 929.6,196.8 930.3,196.9 931.0,196.4 931.7,196.0 932.4,193.5 933.1,192.2 933.8,190.7 934.5,189.5 935.2,188.7 935.9,189.1 936.6,188.5 937.3,188.9 938.0,190.8 938.7,190.4 939.4,190.1 940.1,191.5 940.8,193.2 941.5,194.1 942.2,196.5 942.9,198.0 943.6,197.8 944.3,197.1 945.0,195.5 945.7,195.1 946.4,194.3 947.1,193.5 947.8,193.4 948.5,193.4 949.2,193.6 949.9,196.2 950.6,197.6 951.3,197.5 952.0,198.8 952.7,197.7 953.4,195.7 954.1,194.3 954.8,192.9 955.5,190.8 956.2,188.7 956.9,186.5 957.6,184.4 958.3,183.2 959.0,183.0 959.7,182.7 960.4,183.4 961.1,184.3 961.8,183.7 962.5,182.6 963.2,182.8 963.9,183.0 964.6,182.0 965.3,182.6 966.0,184.1 966.7,183.8 967.4,183.8 968.1,182.8 968.8,182.5 969.5,181.4 970.2,181.0 970.9,182.6 971.6,183.6 972.3,182.9 973.0,181.3 973.7,180.5 974.4,178.9 975.1,178.1 975.8,176.8 976.5,176.2 977.2,174.2 977.9,173.7 978.6,171.5 979.3,169.5 980.0,169.2 980.7,168.2 981.4,167.8 982.1,167.5 982.8,166.0 983.5,163.1 984.2,162.2 984.9,162.1 985.6,161.1 986.3,160.2 987.0,160.9 987.7,161.8 988.4,160.6 989.1,158.7 989.8,158.3 990.5,157.4 991.2,156.8 991.9,156.9 992.6,155.9 993.3,155.4 994.0,155.2 994.7,153.9 995.4,150.8 996.1,149.4 996.8,149.9 997.5,150.0 998.2,148.9 998.9,148.1 999.6,149.3 1000.3,149.9 1001.0,150.7 1001.7,150.9 1002.4,151.1 1003.1,152.3 1003.8,152.6 1004.5,153.1 1005.2,152.8 1005.9,154.6 1006.6,154.6 1007.3,152.5 1008.0,151.1 1008.7,150.1 1009.4,149.2 1010.1,147.6 1010.8,146.5 1011.5,146.5 1012.2,144.7 1012.9,143.2 1013.6,142.7 1014.3,139.4 1015.0,137.5 1015.7,136.2 1016.4,134.8 1017.1,135.4 1017.8,136.4 1018.5,135.6 1019.2,135.9 1019.9,137.4 1020.6,139.4 1021.3,138.0 1022.0,137.4 1022.7,136.1 1023.4,134.8 1024.1,133.2 1024.8,131.8 1025.5,130.2 1026.2,129.6 1026.9,127.7 1027.6,124.6 1028.3,122.8 1029.0,122.1 1029.7,120.7 1030.4,118.3 1031.1,117.0 1031.8,117.1 1032.5,119.2 1033.2,119.9 1033.9,122.9 1034.6,126.4 1035.3,130.0 1036.0,134.1 1036.7,138.6 1037.4,141.5 1038.1,145.2 1038.8,149.6 1039.5,156.1 1040.2,162.0 1040.9,157.0 1041.6,152.5 1042.3,149.3 1043.0,146.1 1043.7,144.4 1044.4,142.9 1045.1,143.1 1045.8,144.4"/></defs>
<use href="#sd" fill="none" stroke-linejoin="round" stroke-linecap="round" stroke="#80423a" stroke-width="3.9"/>
<use href="#sl" fill="none" stroke-linejoin="round" stroke-linecap="round" stroke="#dbb7ae" stroke-width="2.6"/>
<use href="#sd" fill="none" stroke-linejoin="round" stroke-linecap="round" stroke="#80423a" stroke-width="3.9" clip-path="url(#mid)"/>
<use href="#sd" fill="none" stroke-linejoin="round" stroke-linecap="round" stroke="#80423a" stroke-width="3.9" clip-path="url(#end)"/>
<use href="#sl" fill="none" stroke-linejoin="round" stroke-linecap="round" stroke="#dbb7ae" stroke-width="3.1" clip-path="url(#lt)"/>
<line x1="299" x2="327" y1="149.7" y2="149.7" stroke="#80423a" stroke-width="4.2" stroke-linecap="round"/>
<line x1="299" x2="327" y1="180" y2="180" stroke="#dbb7ae" stroke-width="3.8" stroke-linecap="round"/>
<text x="321.1 339.5 357.9 373.0 388.1 406.5 423.2 437.5 453.5 470.4 484.1 499.2 517.6 535.9 554.3 571.1 587.2 601.7" y="157.5" font-size="20.5" fill="#222" transform="scale(1.030,1)">ピクテ・セキュリティ・マザーファンド</text>
<text x="323.6 344.8 366.0 387.2 408.4" y="188.6" font-size="20.5" fill="#222" transform="scale(1.030,1)">先進国株式</text>
<text x="19.5 39.4 59.1 78.7 98.4 118.0 137.7 157.3" y="414.3" font-size="19.5" fill="#222" transform="scale(1.080,1)" stroke="#222" stroke-width="0.7">【期間別騰落率】</text>
<rect x="128" y="425.5" width="9.4" height="8" fill="#80423a"/>
<rect x="128" y="447.3" width="9.4" height="8" fill="#dbb7ae"/>
<text x="140.1 155.9 171.7 184.7 197.7 213.5 227.9 240.1 253.8 268.4 280.1 293.1 308.9 324.7 340.5 354.9 368.8 381.2" y="436.5" font-size="17" fill="#222">ピクテ・セキュリティ・マザーファンド</text>
<text x="140.9 159.7 178.5 197.3 216.1" y="458.3" font-size="17" fill="#222">先進国株式</text>
<line x1="92.3" y1="446.5" x2="96.8" y2="446.5" stroke="#a3a3a3" stroke-width="1.2"/>
<text x="60.6 70.4" y="454.1" font-size="18.0" transform="scale(0.920,1)">60</text><text x="108.0" y="454.1" font-size="18.0" transform="scale(0.681,1)">%</text>
<line x1="92.3" y1="476.1" x2="96.8" y2="476.1" stroke="#a3a3a3" stroke-width="1.2"/>
<text x="60.6 70.4" y="483.7" font-size="18.0" transform="scale(0.920,1)">40</text><text x="108.0" y="483.7" font-size="18.0" transform="scale(0.681,1)">%</text>
<line x1="92.3" y1="505.7" x2="96.8" y2="505.7" stroke="#a3a3a3" stroke-width="1.2"/>
<text x="60.6 70.4" y="513.3" font-size="18.0" transform="scale(0.920,1)">20</text><text x="108.0" y="513.3" font-size="18.0" transform="scale(0.681,1)">%</text>
<line x1="92.3" y1="535.3" x2="96.8" y2="535.3" stroke="#a3a3a3" stroke-width="1.2"/>
<text x="70.4" y="542.9" font-size="18.0" transform="scale(0.920,1)">0</text><text x="108.0" y="542.9" font-size="18.0" transform="scale(0.681,1)">%</text>
<line x1="92.3" y1="565.1" x2="96.8" y2="565.1" stroke="#a3a3a3" stroke-width="1.2"/>
<text x="26.5" y="572.7" font-size="18.0" transform="scale(1.748,1)">-</text><text x="60.6 70.4" y="572.7" font-size="18.0" transform="scale(0.920,1)">20</text><text x="108.0" y="572.7" font-size="18.0" transform="scale(0.681,1)">%</text>
<line x1="92.3" y1="595.0" x2="96.8" y2="595.0" stroke="#a3a3a3" stroke-width="1.2"/>
<text x="26.5" y="602.6" font-size="18.0" transform="scale(1.748,1)">-</text><text x="60.6 70.4" y="602.6" font-size="18.0" transform="scale(0.920,1)">40</text><text x="108.0" y="602.6" font-size="18.0" transform="scale(0.681,1)">%</text>
<rect x="119.4" y="517.5" width="29.6" height="17.8" fill="#80423a"/>
<rect x="149.0" y="508.7" width="30.4" height="26.6" fill="#dbb7ae"/>
<rect x="225.9" y="501.3" width="29.6" height="34.0" fill="#80423a"/>
<rect x="255.5" y="507.2" width="30.4" height="28.1" fill="#dbb7ae"/>
<rect x="332.4" y="535.3" width="29.6" height="11.9" fill="#80423a"/>
<rect x="362.0" y="535.3" width="30.4" height="17.9" fill="#dbb7ae"/>
<rect x="438.9" y="483.5" width="29.6" height="51.8" fill="#80423a"/>
<rect x="468.5" y="493.9" width="30.4" height="41.4" fill="#dbb7ae"/>
<rect x="545.4" y="508.7" width="29.6" height="26.6" fill="#80423a"/>
<rect x="575.0" y="522.0" width="30.4" height="13.3" fill="#dbb7ae"/>
<rect x="651.9" y="479.1" width="29.6" height="56.2" fill="#80423a"/>
<rect x="681.5" y="482.0" width="30.4" height="53.3" fill="#dbb7ae"/>
<rect x="758.4" y="535.3" width="29.6" height="31.3" fill="#80423a"/>
<rect x="788.0" y="535.3" width="30.4" height="9.0" fill="#dbb7ae"/>
<rect x="864.9" y="489.4" width="29.6" height="45.9" fill="#80423a"/>
<rect x="894.5" y="487.9" width="30.4" height="47.4" fill="#dbb7ae"/>
<rect x="971.4" y="513.1" width="29.6" height="22.2" fill="#80423a"/>
<rect x="1001.0" y="508.7" width="30.4" height="26.6" fill="#dbb7ae"/>
<line x1="96.8" y1="446.2" x2="96.8" y2="595.3" stroke="#a3a3a3" stroke-width="1.2"/>
<line x1="96.8" y1="535.3" x2="1055.9" y2="535.3" stroke="#a3a3a3" stroke-width="1.2"/>
<line x1="203.2" y1="535.3" x2="203.2" y2="539.8" stroke="#a3a3a3" stroke-width="1.2"/>
<line x1="309.7" y1="535.3" x2="309.7" y2="539.8" stroke="#a3a3a3" stroke-width="1.2"/>
<line x1="416.2" y1="535.3" x2="416.2" y2="539.8" stroke="#a3a3a3" stroke-width="1.2"/>
<line x1="522.6" y1="535.3" x2="522.6" y2="539.8" stroke="#a3a3a3" stroke-width="1.2"/>
<line x1="629.0" y1="535.3" x2="629.0" y2="539.8" stroke="#a3a3a3" stroke-width="1.2"/>
<line x1="735.5" y1="535.3" x2="735.5" y2="539.8" stroke="#a3a3a3" stroke-width="1.2"/>
<line x1="841.9" y1="535.3" x2="841.9" y2="539.8" stroke="#a3a3a3" stroke-width="1.2"/>
<line x1="948.4" y1="535.3" x2="948.4" y2="539.8" stroke="#a3a3a3" stroke-width="1.2"/>
<line x1="1054.9" y1="535.3" x2="1054.9" y2="539.8" stroke="#a3a3a3" stroke-width="1.2"/>
<text x="121.9 130.8" y="505.9" font-size="16.0" fill="#505050" transform="scale(0.950,1)">12</text><text x="183.3" y="505.9" font-size="16.0" fill="#505050" transform="scale(0.722,1)">%</text>
<text x="172.0 180.5" y="494" font-size="16.0" fill="#505050" transform="scale(0.950,1)">18</text><text x="248.3" y="494" font-size="16.0" fill="#505050" transform="scale(0.722,1)">%</text>
<text x="239.8 248.7" y="489.5" font-size="16.0" fill="#505050" transform="scale(0.950,1)">23</text><text x="338.6" y="489.5" font-size="16.0" fill="#505050" transform="scale(0.722,1)">%</text>
<text x="279.0 287.9" y="496.5" font-size="16.0" fill="#505050" transform="scale(0.950,1)">19</text><text x="390.1" y="496.5" font-size="16.0" fill="#505050" transform="scale(0.722,1)">%</text>
<text x="201.3" y="565" font-size="16.0" fill="#505050" transform="scale(1.615,1)">-</text><text x="351.6" y="565" font-size="16.0" fill="#505050" transform="scale(0.950,1)">8</text><text x="474.7" y="565" font-size="16.0" fill="#505050" transform="scale(0.722,1)">%</text>
<text x="222.5" y="576.7" font-size="16.0" fill="#505050" transform="scale(1.615,1)">-</text><text x="387.5 397.0" y="576.7" font-size="16.0" fill="#505050" transform="scale(0.950,1)">12</text><text x="534.3" y="576.7" font-size="16.0" fill="#505050" transform="scale(0.722,1)">%</text>
<text x="464.0 472.9" y="472" font-size="16.0" fill="#505050" transform="scale(0.950,1)">35</text><text x="633.6" y="472" font-size="16.0" fill="#505050" transform="scale(0.722,1)">%</text>
<text x="500.0 509.3" y="489.5" font-size="16.0" fill="#505050" transform="scale(0.950,1)">28</text><text x="681.9" y="489.5" font-size="16.0" fill="#505050" transform="scale(0.722,1)">%</text>
<text x="576.1 585.7" y="498.8" font-size="16.0" fill="#505050" transform="scale(0.950,1)">18</text><text x="782.8" y="498.8" font-size="16.0" fill="#505050" transform="scale(0.722,1)">%</text>
<text x="612.3" y="511.6" font-size="16.0" fill="#505050" transform="scale(0.950,1)">9</text><text x="818.1" y="511.6" font-size="16.0" fill="#505050" transform="scale(0.722,1)">%</text>
<text x="687.8 696.9" y="468" font-size="16.0" fill="#505050" transform="scale(0.950,1)">38</text><text x="928.6" y="468" font-size="16.0" fill="#505050" transform="scale(0.722,1)">%</text>
<text x="731.1 740.3" y="470.5" font-size="16.0" fill="#505050" transform="scale(0.950,1)">36</text><text x="985.7" y="470.5" font-size="16.0" fill="#505050" transform="scale(0.722,1)">%</text>
<text x="467.0" y="591.4" font-size="16.0" fill="#505050" transform="scale(1.615,1)">-</text><text x="803.3 812.9" y="591.4" font-size="16.0" fill="#505050" transform="scale(0.950,1)">21</text><text x="1081.9" y="591.4" font-size="16.0" fill="#505050" transform="scale(0.722,1)">%</text>
<text x="492.9" y="567.4" font-size="16.0" fill="#505050" transform="scale(1.615,1)">-</text><text x="847.0" y="567.4" font-size="16.0" fill="#505050" transform="scale(0.950,1)">6</text><text x="1126.1" y="567.4" font-size="16.0" fill="#505050" transform="scale(0.722,1)">%</text>
<text x="908.3 917.7" y="483" font-size="16.0" fill="#505050" transform="scale(0.950,1)">31</text><text x="1219.5" y="483" font-size="16.0" fill="#505050" transform="scale(0.722,1)">%</text>
<text x="943.0 952.5" y="479.4" font-size="16.0" fill="#505050" transform="scale(0.950,1)">32</text><text x="1265.3" y="479.4" font-size="16.0" fill="#505050" transform="scale(0.722,1)">%</text>
<text x="1024.3 1033.6" y="502.9" font-size="16.0" fill="#505050" transform="scale(0.950,1)">15</text><text x="1371.8" y="502.9" font-size="16.0" fill="#505050" transform="scale(0.722,1)">%</text>
<text x="1055.2 1064.6" y="498.2" font-size="16.0" fill="#505050" transform="scale(0.950,1)">18</text><text x="1412.7" y="498.2" font-size="16.0" fill="#505050" transform="scale(0.722,1)">%</text>
<text x="125.4 135.9 146.2 157.1" y="624.3" font-size="18.29" transform="scale(0.960,1)">2016</text><text x="161.9" y="624.3" font-size="15.5">年</text>
<text x="236.3 246.7 257.0 268.0" y="624.3" font-size="18.29" transform="scale(0.960,1)">2017</text><text x="268.3" y="624.3" font-size="15.5">年</text>
<text x="347.2 357.6 367.9 378.9" y="624.3" font-size="18.29" transform="scale(0.960,1)">2018</text><text x="374.8" y="624.3" font-size="15.5">年</text>
<text x="458.1 468.5 478.8 489.8" y="624.3" font-size="18.29" transform="scale(0.960,1)">2019</text><text x="481.2" y="624.3" font-size="15.5">年</text>
<text x="569.0 579.4 589.7 600.6" y="624.3" font-size="18.29" transform="scale(0.960,1)">2020</text><text x="587.6" y="624.3" font-size="15.5">年</text>
<text x="679.9 690.3 700.6 711.5" y="624.3" font-size="18.29" transform="scale(0.960,1)">2021</text><text x="694.1" y="624.3" font-size="15.5">年</text>
<text x="790.7 801.2 811.5 822.4" y="624.3" font-size="18.29" transform="scale(0.960,1)">2022</text><text x="800.5" y="624.3" font-size="15.5">年</text>
<text x="901.6 912.0 922.4 933.3" y="624.3" font-size="18.29" transform="scale(0.960,1)">2023</text><text x="907.0" y="624.3" font-size="15.5">年</text>
<text x="1012.5 1022.9 1033.2 1044.2" y="624.3" font-size="18.29" transform="scale(0.960,1)">2024</text><text x="1013.5" y="624.3" font-size="15.5">年</text>
<text x="909.7 927.2 944.5 961.8 979.3" y="645.5" font-size="16.5" transform="scale(1.050,1)">（年初来）</text>
<rect x="956.6" y="449" width="93" height="206.5" fill="none" stroke="#bb4944" stroke-width="3"/>
<text x="31.0 47.3 62.8 78.3 91.0 103.7 119.2 133.3 145.3 158.7 173.0 184.5 197.2 212.7 228.2 243.7 257.8 271.4 283.6 292.8 305.7 322.1 336.2 349.8 362.0 374.4 390.5 406.6 421.5 437.6 454.8 472.0 489.2 505.3 520.2 535.2 550.4 565.9 581.3 594.1 606.8 622.3 636.4 648.4 661.8 676.1 687.6 700.3 715.8 731.3 746.8 760.8 774.4 786.6 799.1 815.2 832.4 849.6 866.8 874.7 892.2 909.4 926.6 943.8 961.0 977.8 994.0 1011.2 1028.4 1045.9 1053.5" y="675" font-size="17" fill="#c04d48" transform="scale(1.080,1)">※ピクテ・セキュリティ・マザーファンド：当ファンドの主たる投資対象であるピクテ・セキュリティ・マザーファンドの基準価額（費用控除前、税引前）。</text>
<text x="31.3 46.6 61.9 77.1 91.0 104.5 116.5 128.8 144.7 161.7 178.6 195.6 211.5 226.2 240.8 255.0 269.3 284.1 298.9 313.5 328.1 342.8 358.4 374.3 390.5 405.7 421.0 436.3 450.2 463.6 475.7 488.0 502.6 518.3 535.2 548.6 562.1 579.0 596.0 611.9 627.7 644.7 660.6 675.3 689.9 704.5 720.1 735.2 750.5 765.7 781.0 794.9 808.3 820.4 832.7 848.6 865.5 881.4 896.9 912.9 929.0 942.9 956.3 968.4 980.7 996.6 1013.5 1030.5 1047.5" y="698" font-size="17" fill="#c04d48" transform="scale(1.080,1)">マザーファンドを直接購入することはできません。各ベビーファンドにて費用・報酬等が控除されます。マザーファンドの実績は、当ファンドの運用実績</text>
<text x="31.1 46.1 61.1 74.9 88.4 103.3 118.3 134.2" y="721" font-size="17" fill="#c04d48" transform="scale(1.080,1)">ではありません。</text><text x="145.6 158.2 175.5 192.7 210.0 227.3 244.6 257.6" y="721" font-size="17" fill="#222" transform="scale(1.080,1)">　※先進国株式：</text><text x="322.0 336.4 347.9 360.3" y="721" font-size="17" fill="#222" transform="scale(0.907,1)">MSCI</text><text x="306.8 324.1 341.4 358.7 375.9 393.2 401.3 418.8 436.1 453.4 469.5 486.0 493.6 509.9 527.2 544.5 561.7 577.9 594.1 611.3 627.5 643.7 659.8 674.9 689.7 705.7 723.0 739.2 755.2 764.7 782.0 799.3 816.6 833.0 848.6 864.1 880.2 896.4 913.7 929.9 946.0 963.3 979.5 995.6 1012.9 1030.2 1047.5" y="721" font-size="17" fill="#222" transform="scale(1.080,1)">世界株価指数（配当込み）、基準価額の算出に合わせて株価は1営業日前ベース、為替は当日の対顧客電</text>
<text x="32.1 49.5 66.9 84.3 101.8 118.0 134.3 151.7 169.2 181.8 194.4 211.8 229.3 245.8 261.5 277.2 284.4 294.0 312.9 330.3 347.7 365.1 382.5 400.0 418.8 428.4 435.4 451.5 461.0 470.5 480.0 489.7 505.9 522.2 539.6 555.9 572.0 581.5 591.0 600.5 610.2 627.4 637.1 654.3 663.8 673.5 690.9 708.3 725.4 741.6 751.1 760.6 770.1 779.7 787.9 805.5 822.9 840.4 858.0 865.0 881.3 898.7 915.0 931.1 940.6 950.1 959.6 969.2 986.5 996.2 1013.4 1022.9 1032.6 1048.7" y="743" font-size="17" fill="#222" transform="scale(1.080,1)">信売買仲値で円換算　※下段グラフ（【期間別騰落率】）の2016年の期間は2016年2月29日以降、2024年（年初来）の期間は2024年8月27日ま</text>
<text x="31.1 46.7 58.1 70.5 87.7 104.8 121.9 137.9 152.9 167.8 182.5 197.2 212.9 229.0 246.1 263.2 279.3 295.3 312.4 325.9 339.5 356.6 373.7 389.7 405.8 422.9 437.9 451.6 466.3 481.0 495.8 510.7 526.3" y="765" font-size="17" fill="#222" transform="scale(1.080,1)">で。　※騰落率については、換金時の費用・税金等は考慮していません。</text>
<text x="32.1 48.9 61.5 71.2 84.3 98.2 112.1 127.3 141.2 155.1" y="788" font-size="17" fill="#222" transform="scale(1.080,1)">出所：リフィニティブ</text><text x="205.4 211.7 221.0 232.1 238.4 247.7 258.9 270.1 284.8 291.1 300.5 309.8 318.2 321.9 331.3 340.6 349.0" y="788" font-size="17" fill="#222" transform="scale(0.907,1)"> an LSEG business</text><text x="299.1 313.9 329.0 344.1 359.0 374.7 390.4 405.2 420.3 435.4 447.8 460.3 474.0 487.8 502.4 517.8 534.6" y="788" font-size="17" fill="#222" transform="scale(1.080,1)">のデータを基にピクテ・ジャパン作成</text>
<text x="31.3 46.6 62.0 74.6 88.0 105.0 122.1 138.0 153.9 170.9 186.9 202.8 219.8 235.7 251.7 268.7 284.6 300.5 317.6 333.5 349.4 365.3 378.7 391.7 406.0 420.9 435.7 449.2 463.5 479.5 496.6 513.6 530.6 546.5 562.5 579.5 596.5 613.6 630.6 646.5 662.4 679.5 692.9 706.4 723.4 739.3 754.1 768.5 782.9 797.7 812.5 827.4 840.9 854.3 868.9 883.7 899.3" y="809" font-size="17" fill="#222" transform="scale(1.080,1)">データ・分析等は過去の実績や将来の予測に基づくものであり、運用成果や市場環境等を示唆・保証するものではありません。</text>
</svg>
</body></html>
